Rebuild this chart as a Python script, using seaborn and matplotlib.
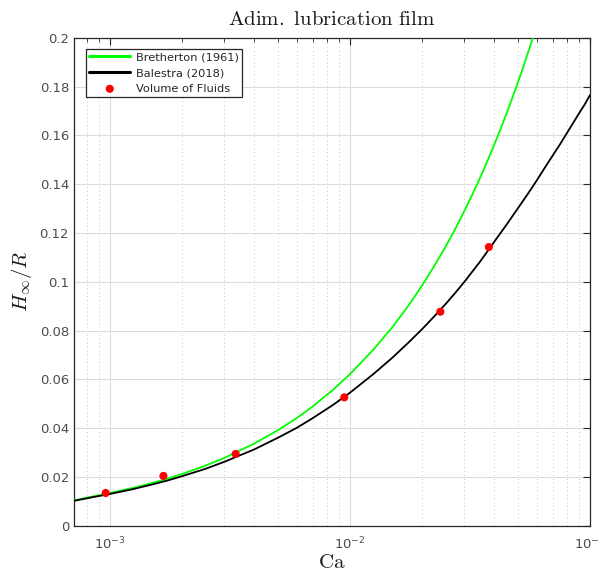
import numpy as np
import pandas as pd
import matplotlib
matplotlib.use("Agg")
import matplotlib.pyplot as plt
import matplotlib.ticker as mticker
import seaborn as sns

# Data
ca_bretherton = [7.1e-4, 8.5e-4, 1e-3, 1.25e-3, 1.5e-3, 1.75e-3, 2e-3, 2.5e-3, 3e-3, 4e-3,
                 5e-3, 6e-3, 7e-3, 8.5e-3, 1e-2, 1.25e-2, 1.5e-2, 1.75e-2, 2e-2, 2.25e-2,
                 2.5e-2, 2.75e-2, 3e-2, 3.25e-2, 3.5e-2, 3.75e-2, 4e-2, 4.25e-2, 4.5e-2,
                 4.75e-2, 5e-2, 5.25e-2, 5.5e-2, 5.8e-2]
h_bretherton = [0.0104, 0.0120, 0.0134, 0.0155, 0.0175, 0.0194, 0.0212, 0.0246, 0.0278, 0.0337,
                0.0391, 0.0441, 0.0489, 0.0557, 0.0621, 0.0721, 0.0813, 0.0901, 0.0985, 0.1066,
                0.1143, 0.1218, 0.1291, 0.1362, 0.1430, 0.1498, 0.1564, 0.1628, 0.1692,
                0.1754, 0.1815, 0.1874, 0.1935, 0.2003]

ca_balestra = [7.1e-4, 8.5e-4, 1e-3, 1.25e-3, 1.5e-3, 1.75e-3, 2e-3, 2.5e-3, 3e-3, 4e-3,
               5e-3, 6e-3, 7e-3, 8.5e-3, 1e-2, 1.25e-2, 1.5e-2, 1.75e-2, 2e-2, 2.25e-2,
               2.5e-2, 2.75e-2, 3e-2, 3.5e-2, 4e-2, 4.5e-2, 5e-2, 5.5e-2, 6e-2, 6.5e-2,
               7e-2, 7.5e-2, 8e-2, 8.5e-2, 9e-2, 9.5e-2, 1e-1]
h_balestra = [0.0102, 0.0117, 0.0130, 0.0150, 0.0169, 0.0186, 0.0203, 0.0233, 0.0262, 0.0313,
              0.0360, 0.0401, 0.0441, 0.0495, 0.0545, 0.0621, 0.0688, 0.0750, 0.0806, 0.0859,
              0.0908, 0.0955, 0.1000, 0.1085, 0.1165, 0.1235, 0.1300, 0.1359, 0.1415, 0.1469,
              0.1518, 0.1563, 0.1608, 0.1650, 0.1690, 0.1726, 0.1765]

ca_vof = [9.6e-4, 1.67e-3, 3.34e-3, 9.47e-3, 2.38e-2, 3.79e-2]
h_vof = [0.0134, 0.0204, 0.0294, 0.0526, 0.0877, 0.1142]

x_ticks = [1e-3, 1e-2, 1e-1]
x_tick_labels = [r"$10^{-3}$", r"$10^{-2}$", r"$10^{-1}$"]

sns.set_style("white")
plt.rcParams["font.family"] = ["DejaVu Sans"]
plt.rcParams["mathtext.fontset"] = "dejavusans"

fig = plt.figure(figsize=(6.0, 5.72), dpi=100)
ax = fig.add_axes([0.1233, 0.081, 0.860, 0.853])

df_b = pd.DataFrame({"Ca": ca_bretherton, "H": h_bretherton})
df_l = pd.DataFrame({"Ca": ca_balestra, "H": h_balestra})
df_v = pd.DataFrame({"Ca": ca_vof, "H": h_vof})

sns.lineplot(data=df_b, x="Ca", y="H", ax=ax, color="#00ff00", lw=1.3,
             label="Bretherton (1961)", zorder=3)
sns.lineplot(data=df_l, x="Ca", y="H", ax=ax, color="black", lw=1.3,
             label="Balestra (2018)", zorder=3)
sns.scatterplot(data=df_v, x="Ca", y="H", ax=ax, color="red", s=34, marker="o",
                edgecolor="none", label="Volume of Fluids", zorder=4)

ax.set_xscale("log")
ax.set_xlim(7.08e-4, 0.1)
ax.set_ylim(0, 0.2)

ax.xaxis.set_major_locator(mticker.FixedLocator(x_ticks))
ax.xaxis.set_major_formatter(mticker.FixedFormatter(x_tick_labels))
ax.xaxis.set_minor_locator(mticker.LogLocator(base=10, subs=np.arange(2, 10), numticks=20))
ax.xaxis.set_minor_formatter(mticker.NullFormatter())
ax.yaxis.set_major_locator(mticker.MultipleLocator(0.02))
ax.yaxis.set_major_formatter(mticker.FuncFormatter(lambda v, p: ("%g" % round(v, 2))))

ax.grid(which="major", color="#dcdcdc", lw=0.8, ls="-")
ax.grid(which="minor", axis="x", color="#c8c8c8", lw=0.7, ls=(0, (1, 3)))
ax.set_axisbelow(True)

ax.tick_params(which="both", direction="in", top=True, right=True, colors="#262626",
               labelcolor="#4d4d4d", labelsize=9.5)
ax.tick_params(which="major", length=5, width=0.8)
ax.tick_params(which="minor", length=3, width=0.6)
ax.tick_params(axis="x", pad=7)
for s in ax.spines.values():
    s.set_color("#262626")
    s.set_linewidth(0.9)

ax.set_title(r"$\mathrm{Adim.\ lubrication\ film}$", math_fontfamily="cm", fontsize=15,
             color="#1a1a1a", pad=9)
ax.set_xlabel(r"$\mathrm{Ca}$", math_fontfamily="cm", fontsize=15, color="#1a1a1a", labelpad=0)
ax.set_ylabel(r"$H_\infty/R$", math_fontfamily="cm", fontsize=15, color="#1a1a1a", labelpad=4)

leg = ax.legend(loc="upper left", bbox_to_anchor=(0.023, 0.977), fontsize=8.2, frameon=True,
                fancybox=False, edgecolor="#262626", framealpha=1, handlelength=3.6,
                borderpad=0.3, labelspacing=0.5, handletextpad=0.5, borderaxespad=0)
leg.get_frame().set_linewidth(0.9)
for h in leg.legend_handles[:2]:
    h.set_linewidth(2.2)

fig.savefig("out.png", dpi=100, facecolor="white")
